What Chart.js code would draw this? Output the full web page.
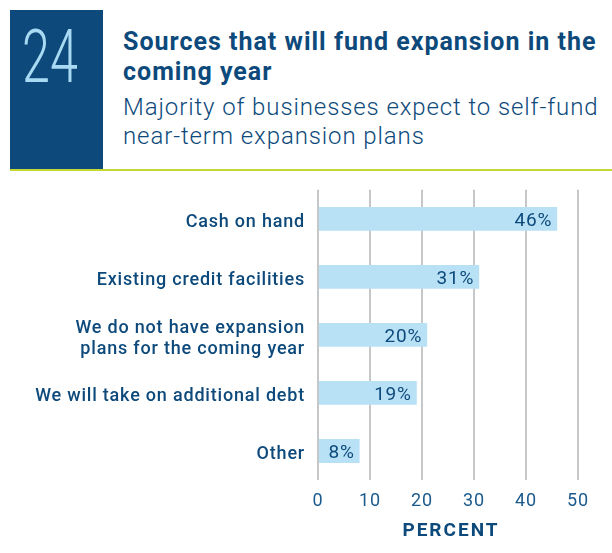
<!DOCTYPE html>
<html>
<head>
<meta charset="utf-8">
<script src="https://cdn.jsdelivr.net/npm/chart.js@4.4.0/dist/chart.umd.min.js"></script>
<style>
  body { margin:0; background:#fff; font-family:Roboto, "Noto Sans", sans-serif; }
  #page { position:relative; width:612px; height:553px; overflow:hidden; }
  #numbox { position:absolute; left:10px; top:10px; width:93px; height:159px; background:#0d4a7b; }
  #num { position:absolute; left:12px; top:10px; font-size:74px; line-height:1; font-weight:300; color:#a9daf3; transform:scaleX(0.68); transform-origin:left top; }
  #rule { position:absolute; left:10px; top:169px; width:602px; height:2px; background:#c4d734; }
  #title { position:absolute; left:123px; top:27px; font-size:25px; font-weight:700; color:#0d4a7b; line-height:30px; letter-spacing:1px; white-space:nowrap; }
  #sub { position:absolute; left:123px; top:93px; font-size:24px; font-weight:300; color:#0d4a7b; line-height:29px; letter-spacing:0.9px; white-space:nowrap; }
  #wrap { position:absolute; left:0; top:166px; width:612px; height:387px; }
</style>
</head>
<body>
<div id="page">
  <div id="numbox"><div id="num">24</div></div>
  <div id="rule"></div>
  <div id="title">Sources that will fund expansion in the<br>coming year</div>
  <div id="sub">Majority of businesses expect to self-fund<br>near-term expansion plans</div>
  <div id="wrap"><canvas id="grafica" width="612" height="387"></canvas></div>
</div>
<script>
var categorias = [
    'Cash on hand',
    'Existing credit facilities',
    ['We do not have expansion', 'plans for the coming year'],
    'We will take on additional debt',
    'Other'
];
var valores = [46, 31, 21, 19, 8];
var etiquetas = ['46%', '31%', '20%', '19%', '8%'];
var ticks_x = [0, 10, 20, 30, 40, 50];
var titulo_x = 'PERCENT';

var azul = '#0d4a7b';

// la fuente original es mas ancha, se abre un poco el texto
var espaciado = {
    id: 'espaciado',
    beforeUpdate: function(chart) { chart.ctx.letterSpacing = '0.8px'; },
    beforeDraw: function(chart) { chart.ctx.letterSpacing = '0.8px'; }
};

// porcentaje dentro de la barra y titulo del eje
var etiquetasPlugin = {
    id: 'etiquetas',
    afterDatasetsDraw: function(chart) {
        var ctx = chart.ctx;
        var meta = chart.getDatasetMeta(0);
        ctx.save();
        ctx.font = '400 19px Roboto';
        ctx.fillStyle = azul;
        ctx.textAlign = 'right';
        ctx.textBaseline = 'middle';
        meta.data.forEach(function(bar, i) {
            ctx.fillText(etiquetas[i], bar.x - 5, bar.y + 2);
        });
        ctx.restore();
    },
    afterDraw: function(chart) {
        var ctx = chart.ctx;
        var area = chart.chartArea;
        ctx.save();
        ctx.letterSpacing = '2px';
        ctx.font = '700 19px Roboto';
        ctx.fillStyle = azul;
        ctx.textAlign = 'center';
        ctx.textBaseline = 'middle';
        ctx.fillText(titulo_x, (area.left + area.right) / 2 + 3, area.bottom + 51);
        ctx.restore();
    }
};

var ctx = document.getElementById('grafica').getContext('2d');
var chart = new Chart(ctx, {
    type: 'bar',
    data: {
        labels: categorias,
        datasets: [{
            data: valores,
            backgroundColor: '#b9e1f6',
            barPercentage: 0.82,
            categoryPercentage: 0.5
        }]
    },
    options: {
        indexAxis: 'y',
        responsive: false,
        animation: false,
        layout: { padding: { top: 8, right: 34, left: 0, bottom: 0 } },
        plugins: { legend: { display: false }, tooltip: { enabled: false } },
        scales: {
            x: {
                min: 0,
                max: 50,
                afterBuildTicks: function(scale) {
                    scale.ticks = ticks_x.map(function(v) { return { value: v }; });
                },
                afterFit: function(scale) { scale.height = 73; },
                grid: { color: '#c5c7c9', lineWidth: 2, drawTicks: false },
                border: { display: false },
                ticks: { color: '#1b5a8c', font: { family: 'Roboto', size: 18 }, padding: 11 }
            },
            y: {
                afterFit: function(scale) { scale.width = 318; },
                grid: { display: false, drawTicks: false },
                border: { display: false },
                ticks: { color: azul, font: { family: 'Roboto', size: 18, weight: '500' }, padding: 13, labelOffset: 4 }
            }
        }
    },
    plugins: [espaciado, etiquetasPlugin]
});
</script>
</body>
</html>
